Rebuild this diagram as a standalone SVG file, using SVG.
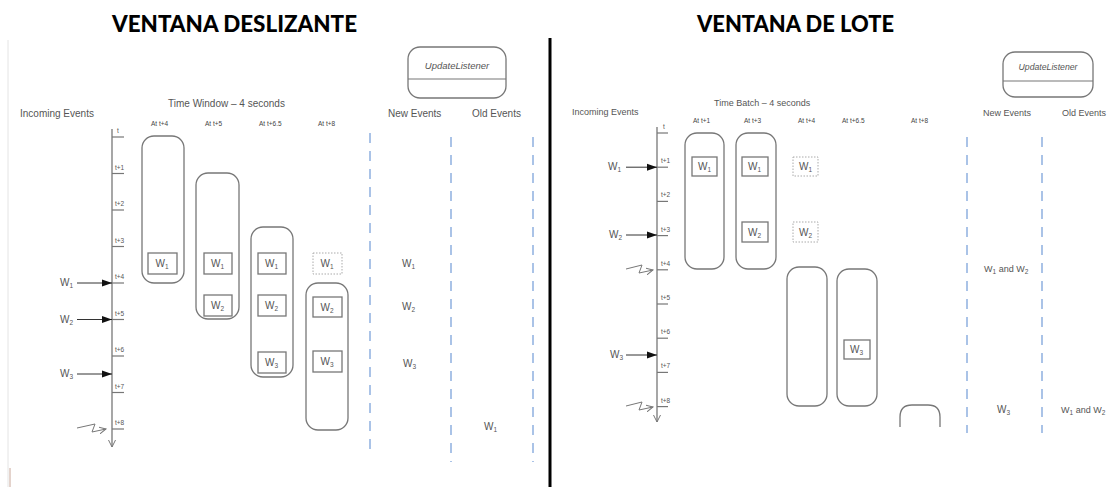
<svg xmlns="http://www.w3.org/2000/svg" width="1112" height="487" viewBox="0 0 1112 487">
<style>
.title{font-family:Lato,"Liberation Sans",sans-serif;font-weight:900;font-size:23px;fill:#000}
.lbl{font-family:"Liberation Sans",Arial,sans-serif;font-size:10px;fill:#555}
.lbl9{font-family:"Liberation Sans",Arial,sans-serif;font-size:9px;fill:#555}
.at{font-family:"Liberation Sans",Arial,sans-serif;font-size:6.5px;fill:#444}
.tk{font-family:"Liberation Sans",Arial,sans-serif;font-size:6.5px;fill:#555}
.ev{font-family:"Liberation Sans",Arial,sans-serif;font-size:10px;fill:#555}
.evs{font-family:"Liberation Sans",Arial,sans-serif;font-size:9px;fill:#555}
.sub{font-size:6.5px}
.ul{font-family:"Liberation Sans",Arial,sans-serif;font-style:italic;fill:#555}
.win{fill:none;stroke:#777;stroke-width:1.3}
.box{fill:#fff;stroke:#777;stroke-width:1.3}
.dbox{fill:none;stroke:#aaa;stroke-width:1;stroke-dasharray:1.5 1.5}
.tl{stroke:#777;stroke-width:1.3;fill:none}
.tick{stroke:#777;stroke-width:1.2}
.inarr{stroke:#333;stroke-width:1}
.zig{stroke:#777;stroke-width:1;fill:none}
.dash{stroke:#8fb0e0;stroke-width:1.5;stroke-dasharray:10 8}
</style>
<defs>
<marker id="fa" markerWidth="10" markerHeight="8" refX="10" refY="4" orient="auto" markerUnits="userSpaceOnUse"><path d="M0,0.5 L10,4 L0,7.5 z" fill="#111"/></marker>
<marker id="oa" markerWidth="8" markerHeight="8" refX="7" refY="4" orient="auto" markerUnits="userSpaceOnUse"><path d="M0,0.5 L7,4 L0,7.5" fill="none" stroke="#777" stroke-width="1"/></marker>
</defs>
<rect x="0" y="0" width="1112" height="487" fill="#fff"/>

<!-- frame -->
<line x1="8" y1="40" x2="8" y2="487" stroke="#e4e4e4" stroke-width="1"/>
<line x1="10" y1="468" x2="10" y2="487" stroke="#c9a89a" stroke-width="1"/>
<line x1="550" y1="38" x2="550" y2="487" stroke="#000" stroke-width="3"/>

<text class="title" x="112" y="32" textLength="245" lengthAdjust="spacingAndGlyphs">VENTANA DESLIZANTE</text>
<text class="title" x="697" y="32" textLength="197" lengthAdjust="spacingAndGlyphs">VENTANA DE LOTE</text>

<!-- ============ LEFT: sliding window ============ -->
<g id="left-labels">
<text class="lbl" x="20" y="117">Incoming Events</text>
<text class="lbl" x="168" y="107">Time Window – 4 seconds</text>
<text class="at" x="151" y="126">At t+4</text>
<text class="at" x="205" y="126">At t+5</text>
<text class="at" x="259" y="126">At t+6.5</text>
<text class="at" x="318" y="126">At t+8</text>
<text class="lbl" x="388" y="117">New Events</text>
<text class="lbl" x="472" y="117">Old Events</text>
</g>

<g id="left-listener">
<rect x="408" y="47" width="98" height="51" rx="12" class="win"/>
<line x1="408" y1="79" x2="506" y2="79" class="tick"/>
<text class="ul" x="457" y="69" font-size="9.5" text-anchor="middle">UpdateListener</text>
</g>

<g id="left-timeline">
<line x1="112" y1="129" x2="112" y2="447" class="tl" marker-end="url(#oa)"/>
<g class="tick">
<line x1="112" y1="137" x2="124" y2="137"/>
<line x1="112" y1="173.5" x2="124" y2="173.5"/>
<line x1="112" y1="210" x2="124" y2="210"/>
<line x1="112" y1="246.5" x2="124" y2="246.5"/>
<line x1="112" y1="283" x2="124" y2="283"/>
<line x1="112" y1="319.5" x2="124" y2="319.5"/>
<line x1="112" y1="356" x2="124" y2="356"/>
<line x1="112" y1="392.5" x2="124" y2="392.5"/>
<line x1="112" y1="429" x2="124" y2="429"/>
</g>
<text class="tk" x="117" y="133">t</text>
<text class="tk" x="115" y="169.5">t+1</text>
<text class="tk" x="115" y="206">t+2</text>
<text class="tk" x="115" y="242.5">t+3</text>
<text class="tk" x="115" y="279">t+4</text>
<text class="tk" x="115" y="315.5">t+5</text>
<text class="tk" x="115" y="352">t+6</text>
<text class="tk" x="115" y="388.5">t+7</text>
<text class="tk" x="115" y="425">t+8</text>
</g>

<g id="left-incoming">
<line x1="77" y1="283" x2="112" y2="283" class="inarr" marker-end="url(#fa)"/>
<text class="ev" x="60" y="286">W<tspan class="sub" dy="2">1</tspan></text>
<line x1="77" y1="319.5" x2="112" y2="319.5" class="inarr" marker-end="url(#fa)"/>
<text class="ev" x="60" y="322.5">W<tspan class="sub" dy="2">2</tspan></text>
<line x1="77" y1="374" x2="112" y2="374" class="inarr" marker-end="url(#fa)"/>
<text class="ev" x="60" y="377">W<tspan class="sub" dy="2">3</tspan></text>
<path d="M77,428 L95,424 L92,432 L106,429" class="zig" marker-end="url(#oa)"/>
</g>

<g id="left-win1">
<rect x="142" y="136" width="42" height="147" rx="12" class="win"/>
<rect x="148" y="253" width="29" height="21" class="box"/>
<text class="ev" x="155.5" y="267">W<tspan class="sub" dy="2">1</tspan></text>
</g>
<g id="left-win2">
<rect x="196" y="173" width="43" height="146" rx="12" class="win"/>
<rect x="204" y="253" width="28" height="21" class="box"/>
<text class="ev" x="211" y="267">W<tspan class="sub" dy="2">1</tspan></text>
<rect x="204" y="295" width="28" height="21" class="box"/>
<text class="ev" x="211" y="309">W<tspan class="sub" dy="2">2</tspan></text>
</g>
<g id="left-win3">
<rect x="251" y="227" width="42" height="150" rx="12" class="win"/>
<rect x="258" y="253" width="28" height="21" class="box"/>
<text class="ev" x="265" y="267">W<tspan class="sub" dy="2">1</tspan></text>
<rect x="258" y="295" width="28" height="21" class="box"/>
<text class="ev" x="265" y="309">W<tspan class="sub" dy="2">2</tspan></text>
<rect x="258" y="352" width="28" height="21" class="box"/>
<text class="ev" x="265" y="366">W<tspan class="sub" dy="2">3</tspan></text>
</g>
<g id="left-expired">
<rect x="313" y="253" width="29" height="21" class="dbox"/>
<text class="ev" x="320.5" y="267" fill="#888">W<tspan class="sub" dy="2">1</tspan></text>
</g>
<g id="left-win4">
<rect x="306" y="283" width="42" height="147" rx="12" class="win"/>
<rect x="313" y="297" width="29" height="20" class="box"/>
<text class="ev" x="320.5" y="310.5">W<tspan class="sub" dy="2">2</tspan></text>
<rect x="313" y="351" width="29" height="21" class="box"/>
<text class="ev" x="320.5" y="365">W<tspan class="sub" dy="2">3</tspan></text>
</g>

<g id="left-output">
<text class="ev" x="402" y="267">W<tspan class="sub" dy="2">1</tspan></text>
<text class="ev" x="402" y="310">W<tspan class="sub" dy="2">2</tspan></text>
<text class="ev" x="403" y="367">W<tspan class="sub" dy="2">3</tspan></text>
<text class="ev" x="484" y="430">W<tspan class="sub" dy="2">1</tspan></text>
</g>

<g id="left-dividers">
<line x1="370" y1="133" x2="370" y2="457" class="dash"/>
<line x1="451" y1="137" x2="451" y2="462" class="dash"/>
<line x1="533" y1="137" x2="533" y2="462" class="dash"/>
</g>

<!-- ============ RIGHT: batch window ============ -->
<g id="right-labels">
<text class="lbl9" x="572" y="115">Incoming Events</text>
<text class="lbl9" x="714" y="106">Time Batch – 4 seconds</text>
<text class="at" x="693" y="123">At t+1</text>
<text class="at" x="744" y="123">At t+3</text>
<text class="at" x="798" y="123">At t+4</text>
<text class="at" x="842" y="123">At t+6.5</text>
<text class="at" x="911" y="123">At t+8</text>
<text class="lbl9" x="983" y="116">New Events</text>
<text class="lbl9" x="1062" y="116">Old Events</text>
</g>

<g id="right-listener">
<rect x="1003" y="52" width="90" height="45" rx="12" class="win"/>
<line x1="1003" y1="81" x2="1093" y2="81" class="tick"/>
<text class="ul" x="1048" y="70" font-size="8.7" text-anchor="middle">UpdateListener</text>
</g>

<g id="right-timeline">
<line x1="657" y1="127" x2="657" y2="422" class="tl" marker-end="url(#oa)"/>
<g class="tick">
<line x1="657" y1="133" x2="668" y2="133"/>
<line x1="657" y1="167.2" x2="668" y2="167.2"/>
<line x1="657" y1="201.4" x2="668" y2="201.4"/>
<line x1="657" y1="235.6" x2="668" y2="235.6"/>
<line x1="657" y1="269.8" x2="668" y2="269.8"/>
<line x1="657" y1="304" x2="668" y2="304"/>
<line x1="657" y1="338.2" x2="668" y2="338.2"/>
<line x1="657" y1="372.4" x2="668" y2="372.4"/>
<line x1="657" y1="406.6" x2="668" y2="406.6"/>
</g>
<text class="tk" x="663" y="129">t</text>
<text class="tk" x="661" y="163.2">t+1</text>
<text class="tk" x="661" y="197.4">t+2</text>
<text class="tk" x="661" y="231.6">t+3</text>
<text class="tk" x="661" y="265.8">t+4</text>
<text class="tk" x="661" y="300">t+5</text>
<text class="tk" x="661" y="334.2">t+6</text>
<text class="tk" x="661" y="368.4">t+7</text>
<text class="tk" x="661" y="402.6">t+8</text>
</g>

<g id="right-incoming">
<line x1="626" y1="167.2" x2="657" y2="167.2" class="inarr" marker-end="url(#fa)"/>
<text class="ev" x="608" y="170">W<tspan class="sub" dy="2">1</tspan></text>
<line x1="626" y1="235" x2="657" y2="235" class="inarr" marker-end="url(#fa)"/>
<text class="ev" x="609" y="238">W<tspan class="sub" dy="2">2</tspan></text>
<line x1="626" y1="355" x2="657" y2="355" class="inarr" marker-end="url(#fa)"/>
<text class="ev" x="610" y="358">W<tspan class="sub" dy="2">3</tspan></text>
<path d="M626,269 L642,265 L639,273 L653,270" class="zig" marker-end="url(#oa)"/>
<path d="M626,406 L642,402 L639,410 L653,407" class="zig" marker-end="url(#oa)"/>
</g>

<g id="right-winA">
<rect x="685" y="133" width="39" height="136" rx="12" class="win"/>
<rect x="692" y="157" width="25" height="19" class="box"/>
<text class="ev" x="698" y="170">W<tspan class="sub" dy="2">1</tspan></text>
</g>
<g id="right-winB">
<rect x="736" y="133" width="40" height="136" rx="12" class="win"/>
<rect x="742" y="157" width="26" height="19" class="box"/>
<text class="ev" x="748" y="170">W<tspan class="sub" dy="2">1</tspan></text>
<rect x="742" y="222" width="26" height="20" class="box"/>
<text class="ev" x="748" y="235.5">W<tspan class="sub" dy="2">2</tspan></text>
</g>
<g id="right-expired">
<rect x="793" y="157" width="25" height="19" class="dbox"/>
<text class="ev" x="799" y="170" fill="#888">W<tspan class="sub" dy="2">1</tspan></text>
<rect x="793" y="222" width="25" height="20" class="dbox"/>
<text class="ev" x="799" y="235.5" fill="#888">W<tspan class="sub" dy="2">2</tspan></text>
</g>
<g id="right-winC">
<rect x="787" y="267" width="40" height="139" rx="12" class="win"/>
</g>
<g id="right-winD">
<rect x="837" y="269" width="40" height="137" rx="12" class="win"/>
<rect x="844" y="340" width="26" height="19" class="box"/>
<text class="ev" x="850" y="353">W<tspan class="sub" dy="2">3</tspan></text>
</g>
<g id="right-winE">
<path d="M900,427 L900,417 Q900,405 912,405 L928,405 Q940,405 940,417 L940,427" class="win"/>
</g>

<g id="right-output">
<text class="evs" x="984" y="272">W<tspan class="sub" dy="2">1</tspan><tspan dy="-2"> and W</tspan><tspan class="sub" dy="2">2</tspan></text>
<text class="ev" x="997" y="413">W<tspan class="sub" dy="2">3</tspan></text>
<text class="evs" x="1061" y="413">W<tspan class="sub" dy="2">1</tspan><tspan dy="-2"> and W</tspan><tspan class="sub" dy="2">2</tspan></text>
</g>

<g id="right-dividers">
<line x1="967" y1="137" x2="967" y2="433" class="dash"/>
<line x1="1042" y1="137" x2="1042" y2="433" class="dash"/>
</g>
</svg>
